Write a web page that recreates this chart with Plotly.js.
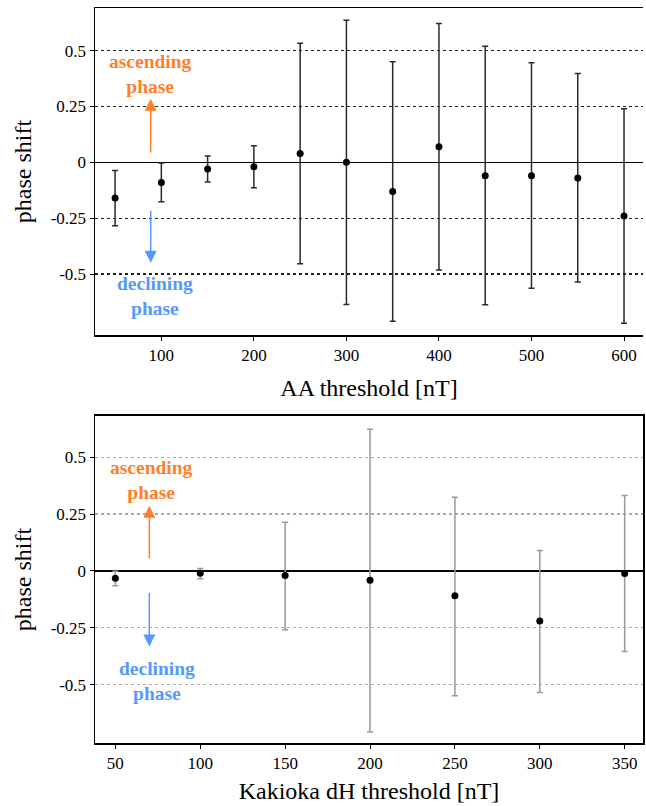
<!DOCTYPE html>
<html>
<head>
<meta charset="utf-8">
<script src="https://cdn.plot.ly/plotly-3.0.1.min.js"></script>
<style>html,body{margin:0;padding:0;background:#fff;}#chart{width:646px;height:806px;}</style>
</head>
<body>
<div id="chart"></div>
<script>
// AA threshold panel
const aaThreshold = [50, 100, 150, 200, 250, 300, 350, 400, 450, 500, 550, 600];
const aaShift     = [-0.16, -0.09, -0.03, -0.02, 0.04, 0.0, -0.13, 0.07, -0.06, -0.06, -0.07, -0.24];
const aaUpper     = [-0.036, -0.003, 0.028, 0.074, 0.533, 0.636, 0.45, 0.622, 0.52, 0.446, 0.398, 0.24];
const aaLower     = [-0.284, -0.176, -0.088, -0.114, -0.454, -0.636, -0.711, -0.482, -0.638, -0.564, -0.536, -0.72];

// Kakioka dH threshold panel
const kkThreshold = [50, 100, 150, 200, 250, 300, 350];
const kkShift     = [-0.032, -0.01, -0.02, -0.041, -0.11, -0.221, -0.012];
const kkUpper     = [-0.002, 0.01, 0.214, 0.623, 0.324, 0.089, 0.331];
const kkLower     = [-0.065, -0.035, -0.259, -0.709, -0.549, -0.535, -0.355];

const yTickVals = [-0.5, -0.25, 0, 0.25, 0.5];
const yTickText = ['-0.5', '-0.25', '0', '0.25', '0.5'];
const aaTicks = [100, 200, 300, 400, 500, 600];
const kkTicks = [50, 100, 150, 200, 250, 300, 350];

const plus = (u, v) => u.map((a, i) => a - v[i]);
const minus = (l, v) => l.map((a, i) => v[i] - a);

const serif = "'Liberation Serif', 'Times New Roman', Times, serif";

const traces = [
  {
    x: aaThreshold, y: aaShift, type: 'scatter', mode: 'markers',
    marker: {color: '#000', size: 7},
    error_y: {type: 'data', symmetric: false, array: plus(aaUpper, aaShift), arrayminus: minus(aaLower, aaShift),
              color: '#2a2a2a', thickness: 1.5, width: 3},
    xaxis: 'x', yaxis: 'y', showlegend: false
  },
  {
    x: kkThreshold, y: kkShift, type: 'scatter', mode: 'markers',
    marker: {color: '#000', size: 7},
    error_y: {type: 'data', symmetric: false, array: plus(kkUpper, kkShift), arrayminus: minus(kkLower, kkShift),
              color: '#999', thickness: 1.5, width: 3},
    xaxis: 'x2', yaxis: 'y2', showlegend: false
  }
];

const yCommon = {
  tickvals: yTickVals, ticktext: yTickText,
  ticks: 'outside', ticklen: 4, tickcolor: '#000',
  showline: true, linecolor: '#000', linewidth: 1.5,
  zeroline: true, zerolinecolor: '#000', zerolinewidth: 1.5,
  tickfont: {family: serif, size: 17, color: '#000'},
  title: {text: 'phase shift', font: {family: serif, size: 24, color: '#000'}, standoff: 12}
};

const layout = {
  width: 646, height: 806,
  margin: {l: 95, r: 3, t: 8, b: 63},
  paper_bgcolor: '#fff', plot_bgcolor: '#fff',
  showlegend: false,
  font: {family: serif, color: '#000'},
  xaxis: {
    domain: [0, 1], range: [28.3, 620.5], tickvals: aaTicks,
    ticks: 'outside', ticklen: 4, tickcolor: '#000',
    showline: true, mirror: true, linecolor: '#000', linewidth: 1.5,
    showgrid: false, zeroline: false, anchor: 'y',
    tickfont: {family: serif, size: 17, color: '#000'},
    title: {text: 'AA threshold [nT]', font: {family: serif, size: 24, color: '#000'}, standoff: 15}
  },
  yaxis: Object.assign({}, yCommon, {
    domain: [0.5551, 1], range: [-0.773, 0.691], anchor: 'x',
    gridcolor: '#222', griddash: 'dot', gridwidth: 1.1
  }),
  xaxis2: {
    domain: [0, 1], range: [38, 360.8], tickvals: kkTicks,
    ticks: 'outside', ticklen: 4, tickcolor: '#000',
    showline: true, mirror: true, linecolor: '#000', linewidth: 1.5,
    showgrid: false, zeroline: false, anchor: 'y2',
    tickfont: {family: serif, size: 17, color: '#000'},
    title: {text: 'Kakioka dH threshold [nT]', font: {family: serif, size: 24, color: '#000'}, standoff: 10}
  },
  yaxis2: Object.assign({}, yCommon, {
    domain: [0, 0.4449], range: [-0.757, 0.681], anchor: 'x2', mirror: true,
    gridcolor: '#aaa', griddash: 'dot', gridwidth: 1.1
  }),
  annotations: [
    {xref: 'x', yref: 'y', x: 88, y: 0.395, text: '<b>ascending<br>phase</b>', showarrow: false,
     font: {family: serif, size: 19.5, color: '#ff7f2a'}},
    {xref: 'x', yref: 'y', x: 93, y: -0.597, text: '<b>declining<br>phase</b>', showarrow: false,
     font: {family: serif, size: 19.5, color: '#5599ff'}},
    {xref: 'x', yref: 'y', axref: 'x', ayref: 'y', x: 88.5, y: 0.285, ax: 88.5, ay: 0.037, text: '',
     showarrow: true, arrowhead: 2, arrowsize: 1.6, arrowwidth: 1.5, arrowcolor: '#ff7f2a'},
    {xref: 'x', yref: 'y', axref: 'x', ayref: 'y', x: 88.5, y: -0.45, ax: 88.5, ay: -0.21, text: '',
     showarrow: true, arrowhead: 2, arrowsize: 1.6, arrowwidth: 1.5, arrowcolor: '#5599ff'},
    {xref: 'x2', yref: 'y2', x: 71, y: 0.40, text: '<b>ascending<br>phase</b>', showarrow: false,
     font: {family: serif, size: 19.5, color: '#ff7f2a'}},
    {xref: 'x2', yref: 'y2', x: 74.4, y: -0.483, text: '<b>declining<br>phase</b>', showarrow: false,
     font: {family: serif, size: 19.5, color: '#5599ff'}},
    {xref: 'x2', yref: 'y2', axref: 'x2', ayref: 'y2', x: 70, y: 0.286, ax: 70, ay: 0.048, text: '',
     showarrow: true, arrowhead: 2, arrowsize: 1.6, arrowwidth: 1.5, arrowcolor: '#ff7f2a'},
    {xref: 'x2', yref: 'y2', axref: 'x2', ayref: 'y2', x: 70, y: -0.333, ax: 70, ay: -0.091, text: '',
     showarrow: true, arrowhead: 2, arrowsize: 1.6, arrowwidth: 1.5, arrowcolor: '#5599ff'}
  ]
};

Plotly.newPlot('chart', traces, layout, {staticPlot: true, displayModeBar: false});
</script>
</body>
</html>
